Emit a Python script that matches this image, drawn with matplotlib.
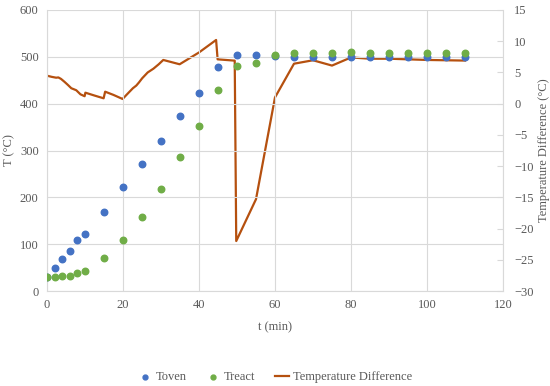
import numpy as np
import matplotlib.pyplot as plt

plt.rcParams['font.family'] = ['Liberation Serif', 'DejaVu Serif']

# measured temperatures
t_pts = [0, 2, 4, 6, 8, 10, 15, 20, 25, 30, 35, 40, 45, 50, 55, 60, 65, 70,
         75, 80, 85, 90, 95, 100, 105, 110]
t_oven = [29, 50, 68, 85, 108, 122, 169, 221, 271, 320, 373, 422, 479, 503,
          503, 502, 499, 499, 499, 500, 499, 499, 499, 499, 499, 499]
t_react = [29, 30, 31, 33, 39, 43, 70, 109, 159, 218, 287, 353, 429, 481,
           487, 503, 509, 509, 508, 510, 509, 509, 509, 509, 509, 509]

# temperature difference (secondary axis)
t_diff = [0, 1.2, 2.4, 3.0, 3.7, 4.6, 5.5, 6.4, 7.1, 7.7, 8.8, 9.9, 10.1,
          12.5, 14.9, 15.3, 17.5, 19.9, 20.9, 22.6, 23.5, 24.2, 25.05, 26.5,
          28.0, 29.4, 30.6, 34.9, 40.0, 44.5, 44.9, 49.4, 49.8, 55, 60, 65,
          70, 75, 80, 85, 90, 95, 100, 105, 110]
dT = [4.48, 4.3, 4.16, 4.2, 3.96, 3.5, 3.0, 2.47, 2.3, 2.15, 1.5, 1.19, 1.76,
      1.3, 0.86, 1.92, 1.4, 0.75, 1.4, 2.47, 2.9, 3.4, 4.07, 5.0, 5.6, 6.31,
      7.0, 6.31, 8.2, 10.2, 7.1, 6.89, -22.0, -15.3, 1.0, 6.4, 6.95, 6.1,
      7.4, 7.2, 7.2, 7.1, 7.0, 6.95, 6.9]

grey = '#595959'
grid = '#D9D9D9'

fig = plt.figure(figsize=(5.5, 3.86), dpi=100)
ax = fig.add_axes([47/550, 1 - 291/386, 456/550, 281/386])
ax2 = ax.twinx()

ax.set_zorder(1)
ax.patch.set_visible(False)
ax2.set_zorder(0)

h1 = ax.scatter(t_pts, t_oven, s=22, color='#4472C4', label='Toven', zorder=3)
h2 = ax.scatter(t_pts, t_react, s=22, color='#70AD47', label='Treact', zorder=3)
h3, = ax2.plot(t_diff, dT, color='#B5500F', lw=1.6, label='Temperature Difference')

ax.set_xlim(0, 120)
ax.set_ylim(0, 600)
ax2.set_ylim(-30, 15)
ax.set_xticks(np.arange(0, 121, 20))
ax.set_yticks(np.arange(0, 601, 100))
ax2.set_yticks(np.arange(-30, 16, 5))

ax.grid(True, color=grid, lw=0.8)
ax.set_axisbelow(True)
for s in ['top', 'right']:
    ax.spines[s].set_visible(False)
for s in ['left', 'bottom']:
    ax.spines[s].set_color(grid)
for s in ['top', 'left', 'bottom']:
    ax2.spines[s].set_visible(False)
ax2.spines['right'].set_color(grid)

ax.tick_params(length=0, labelsize=9, labelcolor=grey, pad=6)
ax2.tick_params(axis='y', direction='in', length=4, color=grid,
                labelsize=9, labelcolor=grey, pad=8)

ax.set_xlabel('t (min)', fontsize=9, color=grey, labelpad=7)
ax.set_ylabel('T (°C)', fontsize=9, color=grey, labelpad=3)
ax2.set_ylabel('Temperature Difference (°C)', fontsize=9, color=grey, labelpad=3)

leg = fig.legend([h1, h2, h3], ['Toven', 'Treact', 'Temperature Difference'],
                 loc='center', bbox_to_anchor=(0.5, 1 - 377/386), ncol=3,
                 frameon=False, fontsize=9, handlelength=1.1, handletextpad=0.3,
                 columnspacing=1.6, markerscale=0.75)
for txt in leg.get_texts():
    txt.set_color(grey)

fig.savefig('out.png', dpi=100)
